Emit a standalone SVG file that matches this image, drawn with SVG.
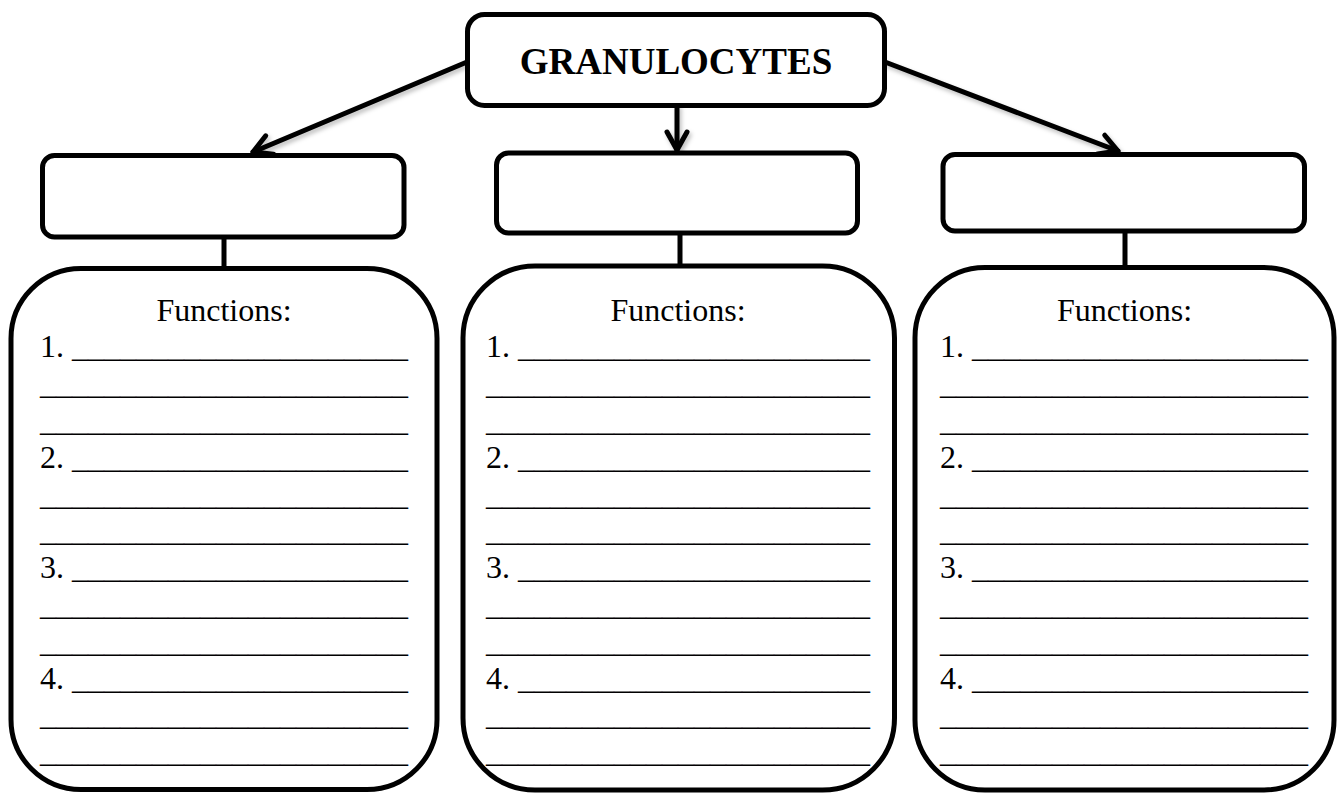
<svg xmlns="http://www.w3.org/2000/svg" width="1341" height="794" viewBox="0 0 1341 794">
  <style>
    .box { fill: #fff; stroke: #000; stroke-width: 5; }
    .link { fill: none; stroke: #000; stroke-width: 5; stroke-linecap: round; }
    .title { font-family: "Liberation Serif", "Times New Roman", serif; font-weight: bold; font-size: 37px; text-anchor: middle; fill: #000; }
    .fn { font-family: "Liberation Serif", "Times New Roman", serif; font-size: 32px; fill: #000; }
    .head { text-anchor: middle; }
  </style>
  <defs>
    <marker id="chevron" markerUnits="userSpaceOnUse" markerWidth="40" markerHeight="40" viewBox="-30 -20 40 40" refX="0" refY="0" orient="auto">
      <path d="M -18 -10 L 0 0 L -18 10" fill="none" stroke="#000" stroke-width="5" stroke-linecap="round" stroke-linejoin="round"/>
    </marker>
    <filter id="soft" x="-10%" y="-10%" width="130%" height="140%">
      <feDropShadow dx="2" dy="3" stdDeviation="2" flood-color="#000" flood-opacity="0.25"/>
    </filter>
  </defs>

  <rect width="1341" height="794" fill="#fff"/>

  <!-- connectors -->
  <g id="connectors">
    <g filter="url(#soft)">
      <line class="link" x1="467" y1="62" x2="253" y2="152" marker-end="url(#chevron)"/>
      <line class="link" x1="677" y1="106" x2="677" y2="150" marker-end="url(#chevron)"/>
      <line class="link" x1="885" y1="62" x2="1118" y2="151" marker-end="url(#chevron)"/>
    </g>
    <line class="link" x1="224" y1="237" x2="224" y2="268"/>
    <line class="link" x1="680" y1="233" x2="680" y2="266"/>
    <line class="link" x1="1125" y1="231" x2="1125" y2="267"/>
  </g>

  <!-- top node -->
  <g id="granulocytes">
    <rect class="box" x="467.5" y="14.5" width="417" height="91" rx="17"/>
    <text class="title" x="676" y="74">GRANULOCYTES</text>
  </g>

  <!-- name boxes -->
  <g id="type-left">
    <rect class="box" x="42.5" y="155.5" width="361.5" height="81.5" rx="12"/>
  </g>
  <g id="type-middle">
    <rect class="box" x="496.5" y="153" width="361" height="80" rx="12"/>
  </g>
  <g id="type-right">
    <rect class="box" x="943" y="154.5" width="361.5" height="76.5" rx="12"/>
  </g>

  <!-- function panels -->
  <g id="functions-left">
    <rect class="box" x="11" y="268.5" width="426" height="521" rx="70"/>
    <g class="fn">
      <text class="head" x="224" y="320.5">Functions:</text>
      <text x="40" y="357.3">1. _____________________</text>
      <text x="40" y="394.1">_______________________</text>
      <text x="40" y="430.9">_______________________</text>
      <text x="40" y="467.7">2. _____________________</text>
      <text x="40" y="504.5">_______________________</text>
      <text x="40" y="541.3">_______________________</text>
      <text x="40" y="578.1">3. _____________________</text>
      <text x="40" y="614.9">_______________________</text>
      <text x="40" y="651.7">_______________________</text>
      <text x="40" y="688.5">4. _____________________</text>
      <text x="40" y="725.3">_______________________</text>
      <text x="40" y="762.1">_______________________</text>
    </g>
  </g>

  <g id="functions-middle">
    <rect class="box" x="463" y="266" width="431.5" height="524" rx="72"/>
    <g class="fn">
      <text class="head" x="678" y="320.5">Functions:</text>
      <text x="486" y="357.3">1. ______________________</text>
      <text x="486" y="394.1">________________________</text>
      <text x="486" y="430.9">________________________</text>
      <text x="486" y="467.7">2. ______________________</text>
      <text x="486" y="504.5">________________________</text>
      <text x="486" y="541.3">________________________</text>
      <text x="486" y="578.1">3. ______________________</text>
      <text x="486" y="614.9">________________________</text>
      <text x="486" y="651.7">________________________</text>
      <text x="486" y="688.5">4. ______________________</text>
      <text x="486" y="725.3">________________________</text>
      <text x="486" y="762.1">________________________</text>
    </g>
  </g>

  <g id="functions-right">
    <rect class="box" x="915" y="267.5" width="419" height="522.5" rx="70"/>
    <g class="fn">
      <text class="head" x="1124.5" y="320.5">Functions:</text>
      <text x="940" y="357.3">1. _____________________</text>
      <text x="940" y="394.1">_______________________</text>
      <text x="940" y="430.9">_______________________</text>
      <text x="940" y="467.7">2. _____________________</text>
      <text x="940" y="504.5">_______________________</text>
      <text x="940" y="541.3">_______________________</text>
      <text x="940" y="578.1">3. _____________________</text>
      <text x="940" y="614.9">_______________________</text>
      <text x="940" y="651.7">_______________________</text>
      <text x="940" y="688.5">4. _____________________</text>
      <text x="940" y="725.3">_______________________</text>
      <text x="940" y="762.1">_______________________</text>
    </g>
  </g>
</svg>
